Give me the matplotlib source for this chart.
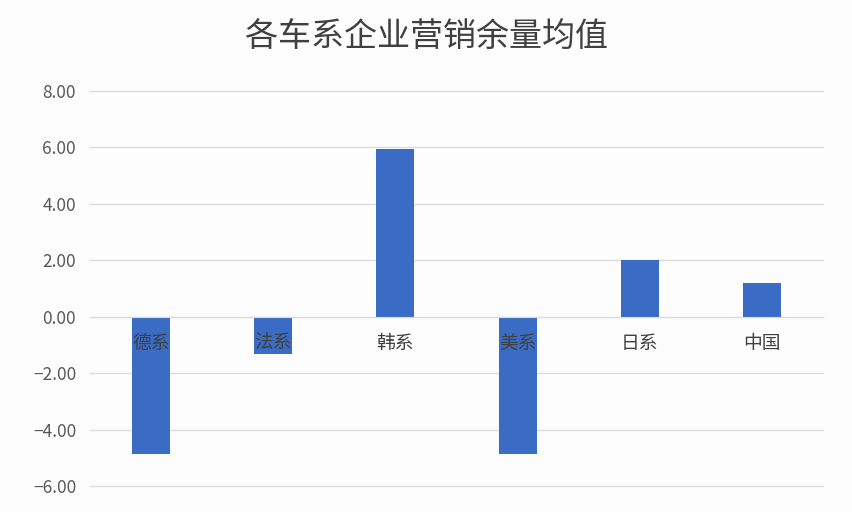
import matplotlib
matplotlib.use("Agg")
import matplotlib.pyplot as plt
from matplotlib.ticker import FuncFormatter

plt.rcParams['font.family'] = ['Noto Sans CJK SC', 'DejaVu Sans']
plt.rcParams['axes.unicode_minus'] = True

categories = ["德系", "法系", "韩系", "美系", "日系", "中国"]
values = [-4.88, -1.31, 5.93, -4.88, 2.02, 1.21]
y_ticks = [-6, -4, -2, 0, 2, 4, 6, 8]

fig = plt.figure(figsize=(8.52, 5.12), dpi=100, facecolor='#fdfdfd')
ax = fig.add_axes([0.1056, 0.0508, 0.8604, 0.7715])
ax.set_facecolor('#fdfdfd')

ax.bar(categories, values, color='#3a6cc6', width=0.31, zorder=2)

ax.set_ylim(-6, 8)
ax.set_xlim(-0.5, len(categories) - 0.5)
ax.set_yticks(y_ticks)
ax.yaxis.set_major_formatter(FuncFormatter(lambda v, p: f"{v:.2f}".replace('-', '−')))
ax.grid(axis='y', color='#dcdcdc', linewidth=1, zorder=0, clip_on=False)
ax.set_axisbelow(True)

for s in ['top', 'right', 'left']:
    ax.spines[s].set_visible(False)
ax.spines['bottom'].set_position(('data', 0))
ax.spines['bottom'].set_color('#dcdcdc')

ax.tick_params(axis='y', length=0, pad=10, labelsize=12.5, labelcolor='#595959')
ax.tick_params(axis='x', length=0, labelbottom=False)

# category labels sit on the zero line and overlap the bars
for i, name in enumerate(categories):
    ax.annotate(name, (i, 0), xytext=(0, -19), textcoords='offset points',
                ha='center', va='center', fontsize=13.5, color='#404040', zorder=3)

fig.text(0.5, 0.927, "各车系企业营销余量均值", ha='center', va='center',
         fontsize=23.8, color='#404040', fontweight='light')

plt.savefig("out.png", dpi=100, facecolor=fig.get_facecolor())
